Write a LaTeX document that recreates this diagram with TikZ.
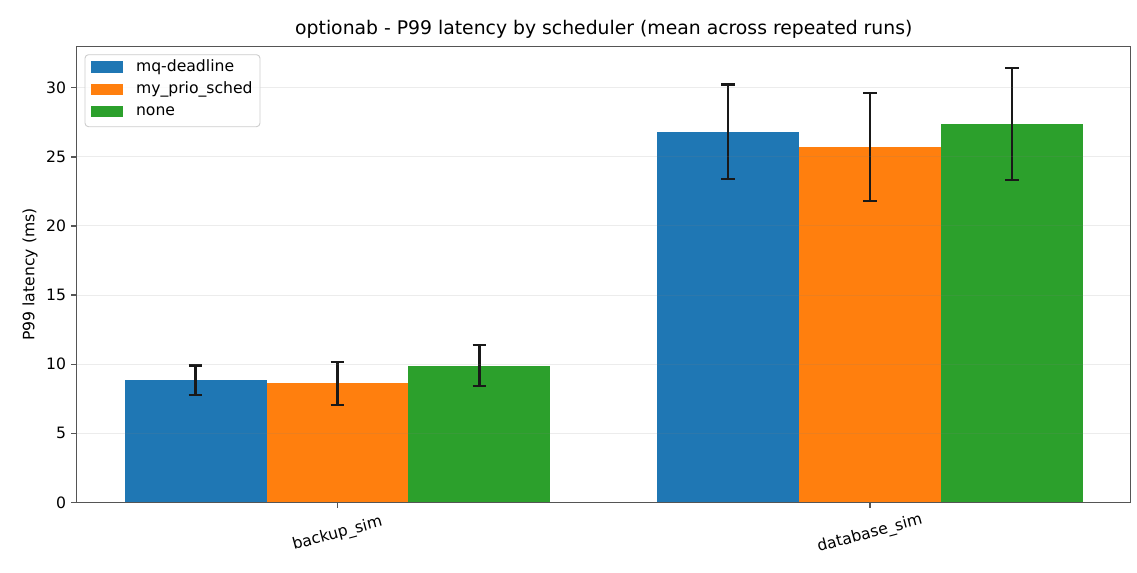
\documentclass[tikz,border=0pt]{standalone}
\usepackage{fontspec}
\setmainfont{DejaVu Sans}
\definecolor{barblue}{HTML}{1F77B4}
\definecolor{barorange}{HTML}{FF7F0E}
\definecolor{bargreen}{HTML}{2CA02C}
\definecolor{spinegray}{HTML}{555555}

\begin{document}
\begin{tikzpicture}[x=0.02cm, y=0.02cm, line cap=butt,
                    ticklabel/.style={font=\fontsize{8.9}{10}\selectfont, inner sep=0pt},
                    spine/.style={draw=spinegray, line width=0.8pt},
                    gridline/.style={draw=gray, line width=0.6pt, opacity=0.15},
                    errbar/.style={draw=black!90, line width=1.2pt}
                   ]
\useasboundingbox (0,0) rectangle (1137,572);
\pgfmathsetmacro{\bw}{0.8/3}

\begin{scope}[shift={(337.5,69.5)}, x=10.65cm, y=0.2766cm]
% bars and error bars
\foreach \g/\k/\col/\v/\e
[evaluate={
            \xl=\g-0.4+\k*\bw;
            \xm=\xl+\bw/2;
            }]
 in {0/0/barblue/8.85/1.06, 0/1/barorange/8.62/1.57, 0/2/bargreen/9.90/1.46,
     1/0/barblue/26.80/3.43, 1/1/barorange/25.70/3.92, 1/2/bargreen/27.35/4.05}{
    \fill [\col] (\xl,0) rectangle (\xl+\bw,\v);
    \draw [errbar] (\xm,\v-\e) -- (\xm,\v+\e);
    \draw [errbar] ([xshift=-3.9pt]\xm,\v-\e) -- ([xshift=3.9pt]\xm,\v-\e);
    \draw [errbar] ([xshift=-3.9pt]\xm,\v+\e) -- ([xshift=3.9pt]\xm,\v+\e);
}
% grid, ticks
\foreach \t in {0,5,...,30}{
    \draw [gridline] (-0.49,\t) -- (1.49,\t);
    \draw [spine] (-0.49,\t) -- ++(-3.4pt,0) node [ticklabel, left=2.2pt] (ytl\t) {\t};
}
\foreach \g/\name in {0/backup\_sim, 1/database\_sim}{
    \draw [spine] (\g,0) -- ++(0,-3.4pt) coordinate (xt\g);
    \node [ticklabel, rotate=15] (xtl\g) at ([yshift=-14.5pt]xt\g) {\name};
}
\draw [spine] (-0.49,0) rectangle (1.49,32.96);
\end{scope}

\node [ticklabel, rotate=90] (ylab) at (30,297.5) {P99 latency (ms)};
\node [font=\fontsize{10.7}{12}\selectfont, inner sep=0pt] (title) at (603.8,543) {optionab - P99 latency by scheduler (mean across repeated runs)};

% legend
\draw [draw=black!20, fill=white, fill opacity=0.8, rounded corners=2pt, line width=0.5pt]
    (85,517.3) rectangle (260,445.3);
\foreach \i/\col/\lab in {0/barblue/mq-deadline, 1/barorange/my\_prio\_sched, 2/bargreen/none}{
    \fill [\col] (90.7,505-22.35*\i-5.6) rectangle (122.7,505-22.35*\i+5.6);
    \node [ticklabel, anchor=west] (leg\i) at (135.7,505-22.35*\i) {\lab};
}
\end{tikzpicture}
\end{document}
